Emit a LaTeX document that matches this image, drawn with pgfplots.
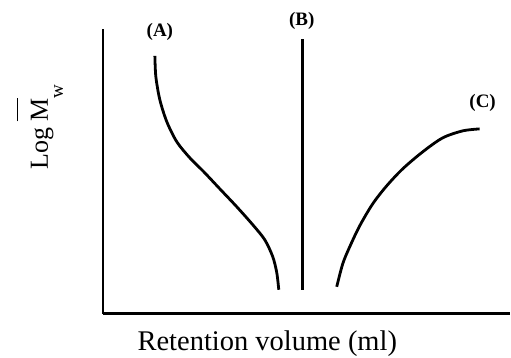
\documentclass[border=0pt]{standalone}
\usepackage{amsmath}
\usepackage{fontspec}
\setmainfont{Liberation Serif}
\usepackage{pgfplots}
\pgfplotsset{compat=1.18}

\begin{document}
\begin{tikzpicture}
\begin{axis}[
  scale only axis, width=407pt, height=285pt,
  xmin=103, xmax=510, ymin=0, ymax=285,
  axis lines=left, axis line style={-, line width=2.8pt},
  xtick=\empty, ytick=\empty,
  clip=false]
% (A)
\addplot[black, line width=2.8pt, smooth] coordinates {
  (155,258) (156,237) (160,214) (167,192) (177,172) (190,156) (204,142)
  (220,125) (237,107) (253,89) (265,74) (273,57) (277,41) (279,24)};
% (B)
\addplot[black, line width=2.8pt] coordinates {(303,24) (303,275)};
% (C)
\addplot[black, line width=2.8pt, smooth] coordinates {
  (337,27) (343,50) (350,67) (360,88) (373,110) (387,128) (403,145)
  (423,162) (443,176) (463,183) (480,185)};
\node[font=\bfseries\fontsize{19}{22}\selectfont] at (axis cs:160,282.5) {(A)};
\node[font=\bfseries\fontsize{19}{22}\selectfont] at (axis cs:302,293) {(B)};
\node[font=\bfseries\fontsize{19}{22}\selectfont] at (axis cs:483,211) {(C)};
\node[anchor=base, font=\fontsize{28.5}{32}\selectfont, inner sep=0pt]
  at (axis cs:267.5,-37) {Retention volume (ml)};
\node[anchor=base west, rotate=90, font=\fontsize{26}{30}\selectfont, inner sep=0pt]
  at (axis cs:48,144) {Log $\overline{\rule{0pt}{27pt}\text{M}}$\raisebox{-15pt}{\fontsize{19}{20}\selectfont w}};
\path (axis cs:0,-44) rectangle (axis cs:511,314);
\end{axis}
\end{tikzpicture}
\end{document}
